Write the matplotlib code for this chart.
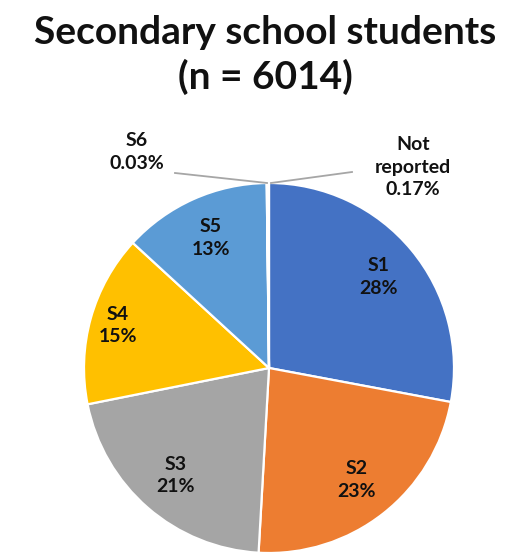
import numpy as np
import matplotlib.pyplot as plt

# share of secondary school students by grade
grades = ["S1", "S2", "S3", "S4", "S5", "S6", "Not\nreported"]
shares = [28, 23, 21, 15, 13, 0.03, 0.17]
share_text = ["28%", "23%", "21%", "15%", "13%", "0.03%", "0.17%"]
colours = ["#4472C4", "#ED7D31", "#A5A5A5", "#FFC000", "#5B9BD5", "#70AD47", "#264478"]

plt.rcParams['font.family'] = ['Lato', 'DejaVu Sans']
plt.rcParams['font.weight'] = 'bold'

fig = plt.figure(figsize=(5.31, 5.53), dpi=100)
ax = fig.add_axes([0, 0, 1, 1])

cx, cy, R = 269, 185, 185
wedges, _ = ax.pie(shares, colors=colours, startangle=90, counterclock=False,
                   center=(cx, cy), radius=R,
                   wedgeprops=dict(edgecolor='white', linewidth=1.6))
# pixel-like data units, set after pie() since it resets the limits
ax.set_xlim(0, 531)
ax.set_ylim(0, 553)
ax.set_aspect('equal')
ax.axis('off')

lbl = dict(ha='center', va='center', fontsize=14, fontweight='bold',
           linespacing=1.4, color='#111111')

# labels inside the big slices
dist = [0.77, 0.77, 0.77, 0.85, 0.77]
for i in range(5):
    w = wedges[i]
    mid = np.deg2rad((w.theta1 + w.theta2) / 2)
    x = cx + dist[i] * R * np.cos(mid)
    y = cy + dist[i] * R * np.sin(mid)
    ax.text(x, y, grades[i] + "\n" + share_text[i], **lbl)

# the two tiny slices get leader lines
top_x, top_y = cx, cy + R
ax.plot([top_x - 2, 175], [top_y, top_y + 10], color='#A6A6A6', lw=1.3)
ax.plot([top_x + 2, 352], [top_y, top_y + 11], color='#A6A6A6', lw=1.3)
ax.text(137, 553 - 152, grades[5] + "\n" + share_text[5], **lbl)
ax.text(413, 553 - 167, grades[6] + "\n" + share_text[6], **lbl)

ax.text(265, 553 - 55, "Secondary school students\n(n = 6014)", ha='center', va='center',
        fontsize=28, fontweight='bold', linespacing=1.3, color='#111111')

fig.savefig("out.png", dpi=100)
